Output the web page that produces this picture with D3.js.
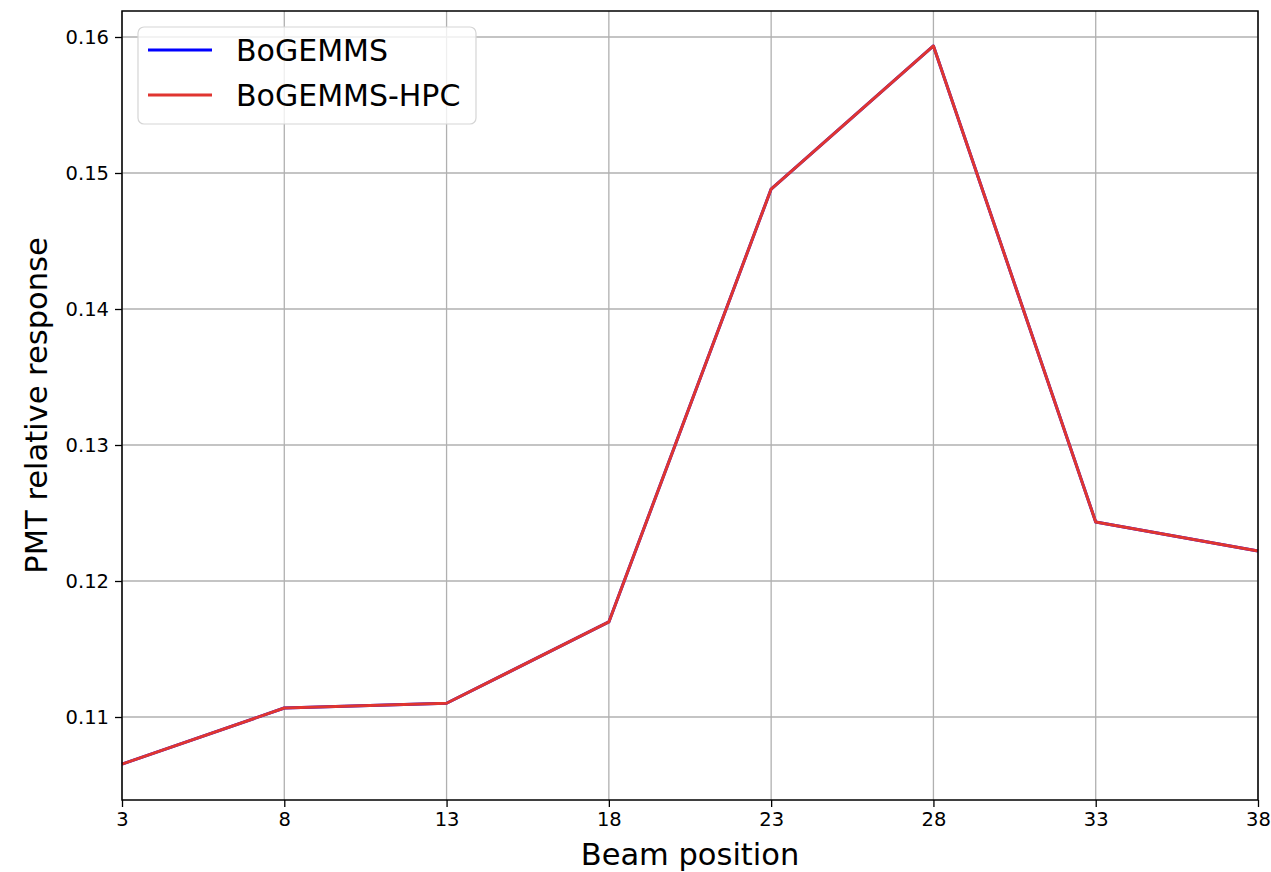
<!DOCTYPE html>
<html><head><meta charset="utf-8">
<script src="https://cdn.jsdelivr.net/npm/d3@7"></script>
<style>body{margin:0;background:#fff;} svg{display:block;font-family:"DejaVu Sans",sans-serif;}</style>
</head><body>
<svg id="c" width="1271" height="872"></svg>
<script>
const beamPositions = [3, 8, 13, 18, 23, 28, 33, 38];
const bogemms = [0.10654, 0.11066, 0.11101, 0.11699, 0.14882, 0.15934, 0.12434, 0.12221];
const bogemmsHPC = [0.10654, 0.11066, 0.11101, 0.11699, 0.14882, 0.15934, 0.12434, 0.12221];
const xTicks = [3, 8, 13, 18, 23, 28, 33, 38];
const yTicks = [0.11, 0.12, 0.13, 0.14, 0.15, 0.16];
const seriesNames = ["BoGEMMS", "BoGEMMS-HPC"];
const seriesColors = ["#0000ff", "#e03530"];

const L = 122, R = 1258, T = 11, B = 800;
const svg = d3.select("#c");
const x = d3.scaleLinear().domain([3, 38]).range([L, R]);
const y = d3.scaleLinear().domain([0.11, 0.16]).range([717, 37]);
y.domain([y.invert(B), y.invert(T)]).range([B, T]);

// grid
const g = svg.append("g");
g.selectAll(".vx").data(xTicks).enter().append("line")
  .attr("x1", d => x(d)).attr("x2", d => x(d)).attr("y1", T).attr("y2", B)
  .attr("stroke", "#b0b0b0").attr("stroke-width", 1.3);
g.selectAll(".hy").data(yTicks).enter().append("line")
  .attr("y1", d => y(d)).attr("y2", d => y(d)).attr("x1", L).attr("x2", R)
  .attr("stroke", "#b0b0b0").attr("stroke-width", 1.3);

// lines
const line = d3.line().x((d, i) => x(beamPositions[i])).y(d => y(d));
[bogemms, bogemmsHPC].forEach((s, i) => {
  svg.append("path").datum(s).attr("d", line).attr("fill", "none")
    .attr("stroke", seriesColors[i]).attr("stroke-width", 3).attr("stroke-linejoin", "round");
});

// axes
const xa = svg.append("g").attr("transform", `translate(0,${B})`)
  .call(d3.axisBottom(x).tickValues(xTicks).tickSize(7).tickPadding(5).tickFormat(d3.format("d")));
const ya = svg.append("g").attr("transform", `translate(${L},0)`)
  .call(d3.axisLeft(y).tickValues(yTicks).tickSize(7).tickPadding(6).tickFormat(d3.format(".2f")));
[xa, ya].forEach(a => {
  a.select(".domain").remove();
  a.selectAll("line").attr("stroke", "#000").attr("stroke-width", 1.3);
  a.selectAll("text").attr("font-size", 19.5).attr("fill", "#000").attr("font-family", "DejaVu Sans");
});
svg.append("rect").attr("x", L).attr("y", T).attr("width", R - L).attr("height", B - T)
  .attr("fill", "none").attr("stroke", "#000").attr("stroke-width", 1.5);

// labels
svg.append("text").attr("x", (L + R) / 2).attr("y", 865).attr("text-anchor", "middle")
  .attr("font-size", 30.5).text("Beam position");
svg.append("text").attr("transform", `translate(47,${(T + B) / 2}) rotate(-90)`)
  .attr("text-anchor", "middle").attr("font-size", 30.5).text("PMT relative response");

// legend
const lg = svg.append("g");
lg.append("rect").attr("x", 138).attr("y", 27).attr("width", 338).attr("height", 97)
  .attr("rx", 6).attr("fill", "#fff").attr("fill-opacity", 0.8).attr("stroke", "#d5d5d5").attr("stroke-width", 1.2);
seriesNames.forEach((n, i) => {
  const yy = 50 + i * 45;
  lg.append("line").attr("x1", 148).attr("x2", 212).attr("y1", yy).attr("y2", yy)
    .attr("stroke", seriesColors[i]).attr("stroke-width", 3);
  lg.append("text").attr("x", 236).attr("y", yy + 11).attr("font-size", 30).text(n);
});
</script>
</body></html>
